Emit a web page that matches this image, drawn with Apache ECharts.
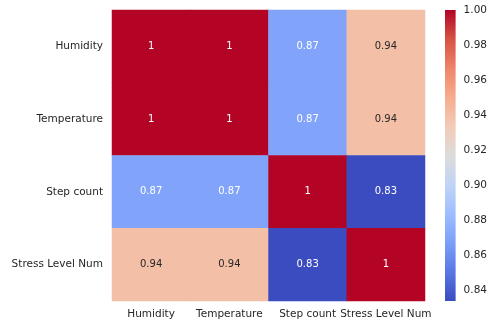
<!DOCTYPE html>
<html><head><meta charset="utf-8">
<script src="https://cdn.jsdelivr.net/npm/echarts@6/dist/echarts.min.js"></script>
<style>html,body{margin:0;padding:0;background:#fff}#c{width:490px;height:324px}</style>
</head><body><div id="c"></div>
<script>
const labels = ['Humidity', 'Temperature', 'Step count', 'Stress Level Num'];
const matrix = [
  [1.0, 1.0, 0.87, 0.94],
  [1.0, 1.0, 0.87, 0.94],
  [0.87, 0.87, 1.0, 0.834],
  [0.94, 0.94, 0.834, 1.0]
];
const colorbarTicks = [0.84, 0.86, 0.88, 0.90, 0.92, 0.94, 0.96, 0.98, 1.00];
const coolwarm = ['#3b4cc0','#5977e3','#7b9ff9','#9ebeff','#c0d4f5','#dddcdc','#f2cbb7','#f7ac8e','#ee8468','#d65244','#b40426'];

let vmin = Infinity, vmax = -Infinity;
matrix.forEach(r => r.forEach(v => { vmin = Math.min(vmin, v); vmax = Math.max(vmax, v); }));

function hex(h){return [1,3,5].map(i=>parseInt(h.substr(i,2),16));}
function cmap(v){
  let t = (v - vmin) / (vmax - vmin); t = Math.max(0, Math.min(1, t));
  const p = t * (coolwarm.length - 1), i = Math.min(Math.floor(p), coolwarm.length - 2), f = p - i;
  const a = hex(coolwarm[i]), b = hex(coolwarm[i+1]);
  return a.map((x,k)=>x + (b[k]-x)*f);
}
function lum(rgb){
  const c = rgb.map(x=>{x/=255; return x<=0.03928? x/12.92 : Math.pow((x+0.055)/1.055,2.4);});
  return 0.2126*c[0]+0.7152*c[1]+0.0722*c[2];
}
function fmt(v){ return String(Number(v.toPrecision(2))); }

const data = [];
matrix.forEach((row, i) => row.forEach((v, j) => {
  data.push({value: [j, i, v], label: {color: lum(cmap(v)) > 0.408 ? '#262626' : '#ffffff'}});
}));

const font = 'DejaVu Sans';
const chart = echarts.init(document.getElementById('c'), null, {renderer: 'canvas'});
chart.setOption({
  animation: false,
  grid: [
    {left: 112, top: 10, width: 313, height: 291},
    {left: 445, top: 10, width: 13, height: 291}
  ],
  xAxis: [
    {type: 'category', data: labels, gridIndex: 0,
     axisLine: {show: false},
     axisTick: {alignWithLabel: true, length: 4, lineStyle: {color: '#333'}},
     axisLabel: {interval: 0, margin: 8, fontFamily: font, fontSize: 10.5, color: '#262626'},
     splitArea: {show: false}},
    {type: 'value', gridIndex: 1, show: false, min: 0, max: 1}
  ],
  yAxis: [
    {type: 'category', data: labels, inverse: true, gridIndex: 0,
     axisLine: {show: false},
     axisTick: {alignWithLabel: true, length: 4, lineStyle: {color: '#333'}},
     axisLabel: {interval: 0, margin: 9, fontFamily: font, fontSize: 10.5, color: '#262626'}},
    {type: 'value', gridIndex: 1, position: 'right', min: vmin, max: vmax,
     splitLine: {show: false},
     axisLine: {show: false},
     axisTick: {show: true, length: 4, customValues: colorbarTicks, lineStyle: {color: '#333'}},
     axisLabel: {margin: 8, fontFamily: font, fontSize: 10.5, color: '#262626',
       customValues: colorbarTicks, formatter: v => v.toFixed(2)}}
  ],
  visualMap: {
    type: 'continuous', min: vmin, max: vmax, seriesIndex: 0, show: false,
    inRange: {color: coolwarm}
  },
  series: [{
    type: 'heatmap', xAxisIndex: 0, yAxisIndex: 0, data: data,
    label: {show: true, fontFamily: font, fontSize: 10, formatter: p => fmt(p.value[2])},
    itemStyle: {borderWidth: 0},
    emphasis: {disabled: true}
  }, {
    type: 'custom', xAxisIndex: 1, yAxisIndex: 1, silent: true,
    data: [[0, vmin, 1, vmax]],
    renderItem: function (params, api) {
      const p0 = api.coord([api.value(0), api.value(1)]);
      const p1 = api.coord([api.value(2), api.value(3)]);
      return {
        type: 'rect',
        shape: {x: p0[0], y: p1[1], width: p1[0] - p0[0], height: p0[1] - p1[1]},
        style: {
          fill: new echarts.graphic.LinearGradient(0, 1, 0, 0,
            coolwarm.map((c, k) => ({offset: k / (coolwarm.length - 1), color: c})))
        }
      };
    }
  }]
});
</script></body></html>
